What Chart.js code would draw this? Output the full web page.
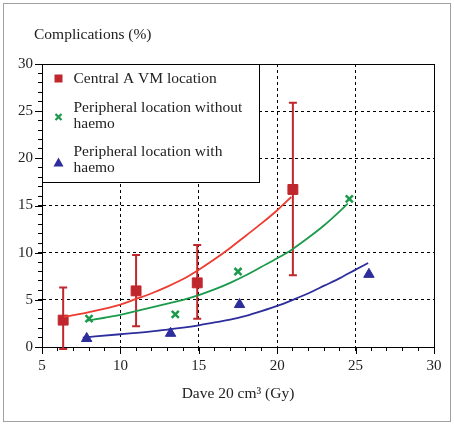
<!DOCTYPE html>
<html>
<head>
<meta charset="utf-8">
<script src="https://cdn.jsdelivr.net/npm/chart.js@4.4.0/dist/chart.umd.min.js"></script>
<style>
  html, body { margin: 0; padding: 0; background: #fff; }
  #wrap { width: 454px; height: 425px; position: relative; }
</style>
</head>
<body>
<div id="wrap"><canvas id="chart" width="454" height="425"></canvas></div>
<script>
// measured points
const centralX = [6.35, 11.0, 14.9, 21.0];
const centralY = [2.85, 5.95, 6.8, 16.7];
const centralLow = [-0.2, 2.2, 3.0, 7.6];
const centralHigh = [6.3, 9.75, 10.8, 25.9];
const periNoX = [8.0, 13.5, 17.5, 24.6];
const periNoY = [3.0, 3.45, 8.0, 15.7];
const periHX = [7.85, 13.2, 17.6, 25.85];
const periHY = [0.9, 1.45, 4.5, 7.7];

// fitted curves
const centralFitX = [6.4, 8, 10, 11, 12, 13, 14, 15, 16, 17, 18, 19, 20, 20.9];
const centralFitY = [3.2, 3.7, 4.5, 5.1, 5.7, 6.4, 7.2, 8.2, 9.3, 10.5, 11.8, 13.1, 14.5, 15.9];
const periNoFitX = [7.9, 9, 10, 11, 12, 13, 14, 15, 16, 17, 18, 19, 20, 21, 22, 23, 24, 24.5];
const periNoFitY = [2.8, 3.1, 3.4, 3.8, 4.2, 4.6, 5.0, 5.5, 6.1, 6.8, 7.6, 8.5, 9.4, 10.4, 11.6, 12.9, 14.4, 15.2];
const periHFitX = [7.6, 10, 12, 13, 14, 15, 16, 17, 18, 19, 20, 21, 22, 23, 24, 25, 25.8];
const periHFitY = [1.0, 1.35, 1.65, 1.85, 2.05, 2.3, 2.6, 2.9, 3.3, 3.8, 4.35, 5.0, 5.7, 6.5, 7.3, 8.2, 8.9];

const xMajor = [5, 10, 15, 20, 25, 30];
const yMajor = [0, 5, 10, 15, 20, 25, 30];
const seriesNames = [['Central A VM location'], ['Peripheral location without', 'haemo'], ['Peripheral location with', 'haemo']];
const yTitle = 'Complications (%)';
const xTitle = 'Dave 20 cm\u00B3 (Gy)';

const RED = '#c0272d', REDLINE = '#ee3b2f', GREEN = '#1a9a4a', BLUE = '#2d2d9c';
const FONT = "'Liberation Serif', serif";

function pts(xs, ys) {
  return xs.map((x, i) => ({x: x, y: ys[i]}));
}

function gridColor(majors) {
  return ctx => {
    const v = ctx.tick ? ctx.tick.value : null;
    if (v === null) return 'rgba(0,0,0,0)';
    if (majors.includes(v) && v !== majors[0] && v !== majors[majors.length - 1]) return '#000';
    return 'rgba(0,0,0,0)';
  };
}

const decor = {
  id: 'decor',
  beforeDatasetsDraw(chart) {
    const {ctx, chartArea: a, scales} = chart;
    ctx.save();
    // plot box
    ctx.strokeStyle = '#000';
    ctx.lineWidth = 1;
    ctx.strokeRect(Math.round(a.left) + 0.5, Math.round(a.top) + 0.5, Math.round(a.right - a.left), Math.round(a.bottom - a.top));
    // longer major ticks
    ctx.beginPath();
    xMajor.forEach(v => {
      const px = Math.round(scales.x.getPixelForValue(v)) + 0.5;
      ctx.moveTo(px, a.bottom); ctx.lineTo(px, a.bottom + 7);
    });
    yMajor.forEach(v => {
      const py = Math.round(scales.y.getPixelForValue(v)) + 0.5;
      ctx.moveTo(a.left, py); ctx.lineTo(a.left - 7, py);
    });
    ctx.stroke();

    // legend box
    const lx = Math.round(a.left) + 0.5, ly = Math.round(a.top) + 0.5;
    const lw = 217, lh = 118;
    ctx.fillStyle = '#fff';
    ctx.fillRect(lx, ly, lw, lh);
    ctx.strokeRect(lx, ly, lw, lh);

    const mx = lx + 16;
    const rows = [14, 43, 87];
    ctx.font = '15.5px ' + FONT;
    ctx.fillStyle = '#222';
    ctx.textBaseline = 'middle';
    ctx.textAlign = 'left';
    seriesNames.forEach((lines, i) => {
      const top = ly + rows[i];
      lines.forEach((t, j) => ctx.fillText(t, lx + 31, top + j * 16));
    });
    // legend markers
    ctx.fillStyle = RED;
    ctx.fillRect(mx - 4, ly + 10, 8, 8);
    ctx.strokeStyle = GREEN; ctx.lineWidth = 2.2;
    ctx.beginPath();
    const gy = ly + 52.5;
    ctx.moveTo(mx - 3, gy - 3); ctx.lineTo(mx + 3, gy + 3);
    ctx.moveTo(mx + 3, gy - 3); ctx.lineTo(mx - 3, gy + 3);
    ctx.stroke();
    ctx.fillStyle = BLUE;
    ctx.beginPath();
    const by = ly + 98;
    ctx.moveTo(mx, by - 5); ctx.lineTo(mx + 5, by + 4); ctx.lineTo(mx - 5, by + 4);
    ctx.closePath(); ctx.fill();

    // error bars
    ctx.strokeStyle = RED; ctx.lineWidth = 2;
    ctx.beginPath();
    centralX.forEach((x, i) => {
      const px = scales.x.getPixelForValue(x);
      const p1 = scales.y.getPixelForValue(centralLow[i]);
      const p2 = scales.y.getPixelForValue(centralHigh[i]);
      ctx.moveTo(px, p1); ctx.lineTo(px, p2);
      ctx.moveTo(px - 4, p1); ctx.lineTo(px + 4, p1);
      ctx.moveTo(px - 4, p2); ctx.lineTo(px + 4, p2);
    });
    ctx.stroke();
    ctx.restore();
  },
  afterDraw(chart) {
    const {ctx, chartArea: a} = chart;
    ctx.save();
    ctx.strokeStyle = '#a0a0a0';
    ctx.lineWidth = 1;
    ctx.strokeRect(3.5, 3.5, 447, 418);
    ctx.fillStyle = '#222';
    ctx.font = '15.5px ' + FONT;
    ctx.textBaseline = 'middle';
    ctx.textAlign = 'left';
    ctx.fillText(yTitle, 34, 35);
    ctx.textAlign = 'center';
    ctx.fillText(xTitle, (a.left + a.right) / 2, 394);
    ctx.restore();
  }
};

new Chart(document.getElementById('chart'), {
  type: 'scatter',
  data: {
    datasets: [
      {data: pts(centralFitX, centralFitY), showLine: true, borderColor: REDLINE, borderWidth: 1.8, pointRadius: 0, cubicInterpolationMode: 'monotone'},
      {data: pts(periNoFitX, periNoFitY), showLine: true, borderColor: GREEN, borderWidth: 1.8, pointRadius: 0, cubicInterpolationMode: 'monotone'},
      {data: pts(periHFitX, periHFitY), showLine: true, borderColor: BLUE, borderWidth: 1.8, pointRadius: 0, cubicInterpolationMode: 'monotone'},
      {data: pts(centralX, centralY), pointStyle: 'rect', pointRadius: 7, backgroundColor: RED, borderColor: RED, borderWidth: 1},
      {data: pts(periNoX, periNoY), pointStyle: 'crossRot', pointRadius: 5, borderColor: GREEN, borderWidth: 2.5},
      {data: pts(periHX, periHY), pointStyle: 'triangle', pointRadius: 6, backgroundColor: BLUE, borderColor: BLUE, borderWidth: 1}
    ]
  },
  options: {
    responsive: false,
    animation: false,
    clip: false,
    layout: {padding: {left: 0, top: 64, right: 20, bottom: 0}},
    plugins: {legend: {display: false}, tooltip: {enabled: false}},
    scales: {
      x: {
        type: 'linear', min: 5, max: 30,
        afterFit: s => { s.height = 78; },
        ticks: {stepSize: 1, autoSkip: false, maxRotation: 0, padding: 6, color: '#222',
          font: {family: FONT, size: 15},
          callback: v => (v % 5 === 0 ? v : '')},
        grid: {color: gridColor(xMajor), tickColor: '#000', tickLength: 4, lineWidth: 1},
        border: {display: true, color: '#000', width: 1, dash: [3, 3]}
      },
      y: {
        type: 'linear', min: 0, max: 30,
        afterFit: s => { s.width = 42; },
        ticks: {stepSize: 1, autoSkip: false, padding: 5, color: '#222',
          font: {family: FONT, size: 15},
          callback: v => (v % 5 === 0 ? v : '')},
        grid: {color: gridColor(yMajor), tickColor: '#000', tickLength: 4, lineWidth: 1},
        border: {display: true, color: '#000', width: 1, dash: [3, 3]}
      }
    }
  },
  plugins: [decor]
});
</script>
</body>
</html>
